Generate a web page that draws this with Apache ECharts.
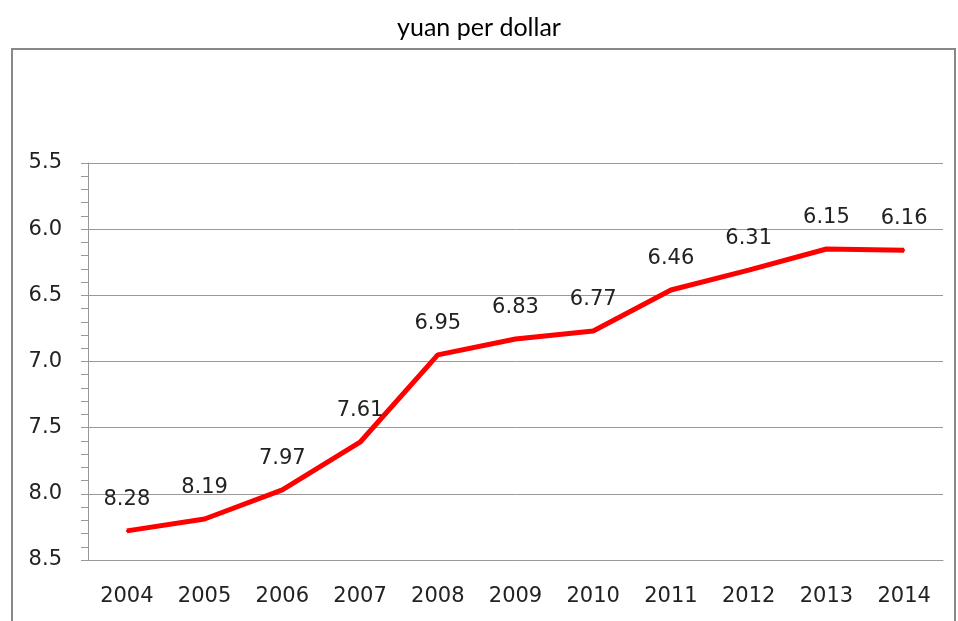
<!DOCTYPE html>
<html>
<head>
<meta charset="utf-8">
<script src="https://cdn.jsdelivr.net/npm/echarts@6/dist/echarts.min.js"></script>
<style>
  html, body { margin: 0; padding: 0; background: #fff; }
  #chart { width: 958px; height: 621px; }
</style>
</head>
<body>
<div id="chart"></div>
<script>
// yuan per dollar, yearly
var years = ['2004', '2005', '2006', '2007', '2008', '2009', '2010', '2011', '2012', '2013', '2014'];
var rates = [8.28, 8.19, 7.97, 7.61, 6.95, 6.83, 6.77, 6.46, 6.31, 6.15, 6.16];

var chart = echarts.init(document.getElementById('chart'));

var option = {
  animation: false,
  title: {
    text: 'yuan per dollar',
    left: 'center',
    top: 10,
    textStyle: {
      fontFamily: 'Lato',
      fontSize: 25,
      fontWeight: 'normal',
      color: '#000'
    }
  },
  graphic: [
    {
      type: 'rect',
      shape: { x: 12, y: 49, width: 943, height: 620 },
      style: { fill: 'none', stroke: '#888', lineWidth: 2 },
      silent: true
    }
  ],
  grid: {
    left: 88,
    right: 15,
    top: 163,
    bottom: 61
  },
  xAxis: {
    type: 'category',
    data: years,
    boundaryGap: true,
    axisLine: { lineStyle: { color: '#999', width: 1 } },
    axisTick: { show: false },
    axisLabel: {
      margin: 26,
      fontFamily: 'DejaVu Sans',
      fontSize: 21,
      color: '#222'
    }
  },
  yAxis: {
    type: 'value',
    inverse: true,
    min: 5.5,
    max: 8.5,
    interval: 0.5,
    axisLine: { show: true, lineStyle: { color: '#999', width: 1 } },
    axisTick: { show: true, length: 7, lineStyle: { color: '#999' } },
    minorTick: { show: true, splitNumber: 5, length: 7, lineStyle: { color: '#999' } },
    splitLine: { lineStyle: { color: '#999', width: 1 } },
    axisLabel: {
      margin: 26,
      fontFamily: 'DejaVu Sans',
      fontSize: 21,
      color: '#222',
      formatter: function (v) { return v.toFixed(1); }
    }
  },
  series: [
    {
      type: 'line',
      data: rates,
      symbol: 'circle',
      symbolSize: 2,
      showSymbol: true,
      itemStyle: { color: '#ff0000' },
      lineStyle: { color: '#ff0000', width: 5 },
      label: {
        show: true,
        position: 'top',
        distance: 20,
        fontFamily: 'DejaVu Sans',
        fontSize: 21,
        color: '#222',
        formatter: function (p) { return p.value.toFixed(2); }
      }
    }
  ]
};

chart.setOption(option);
</script>
</body>
</html>
